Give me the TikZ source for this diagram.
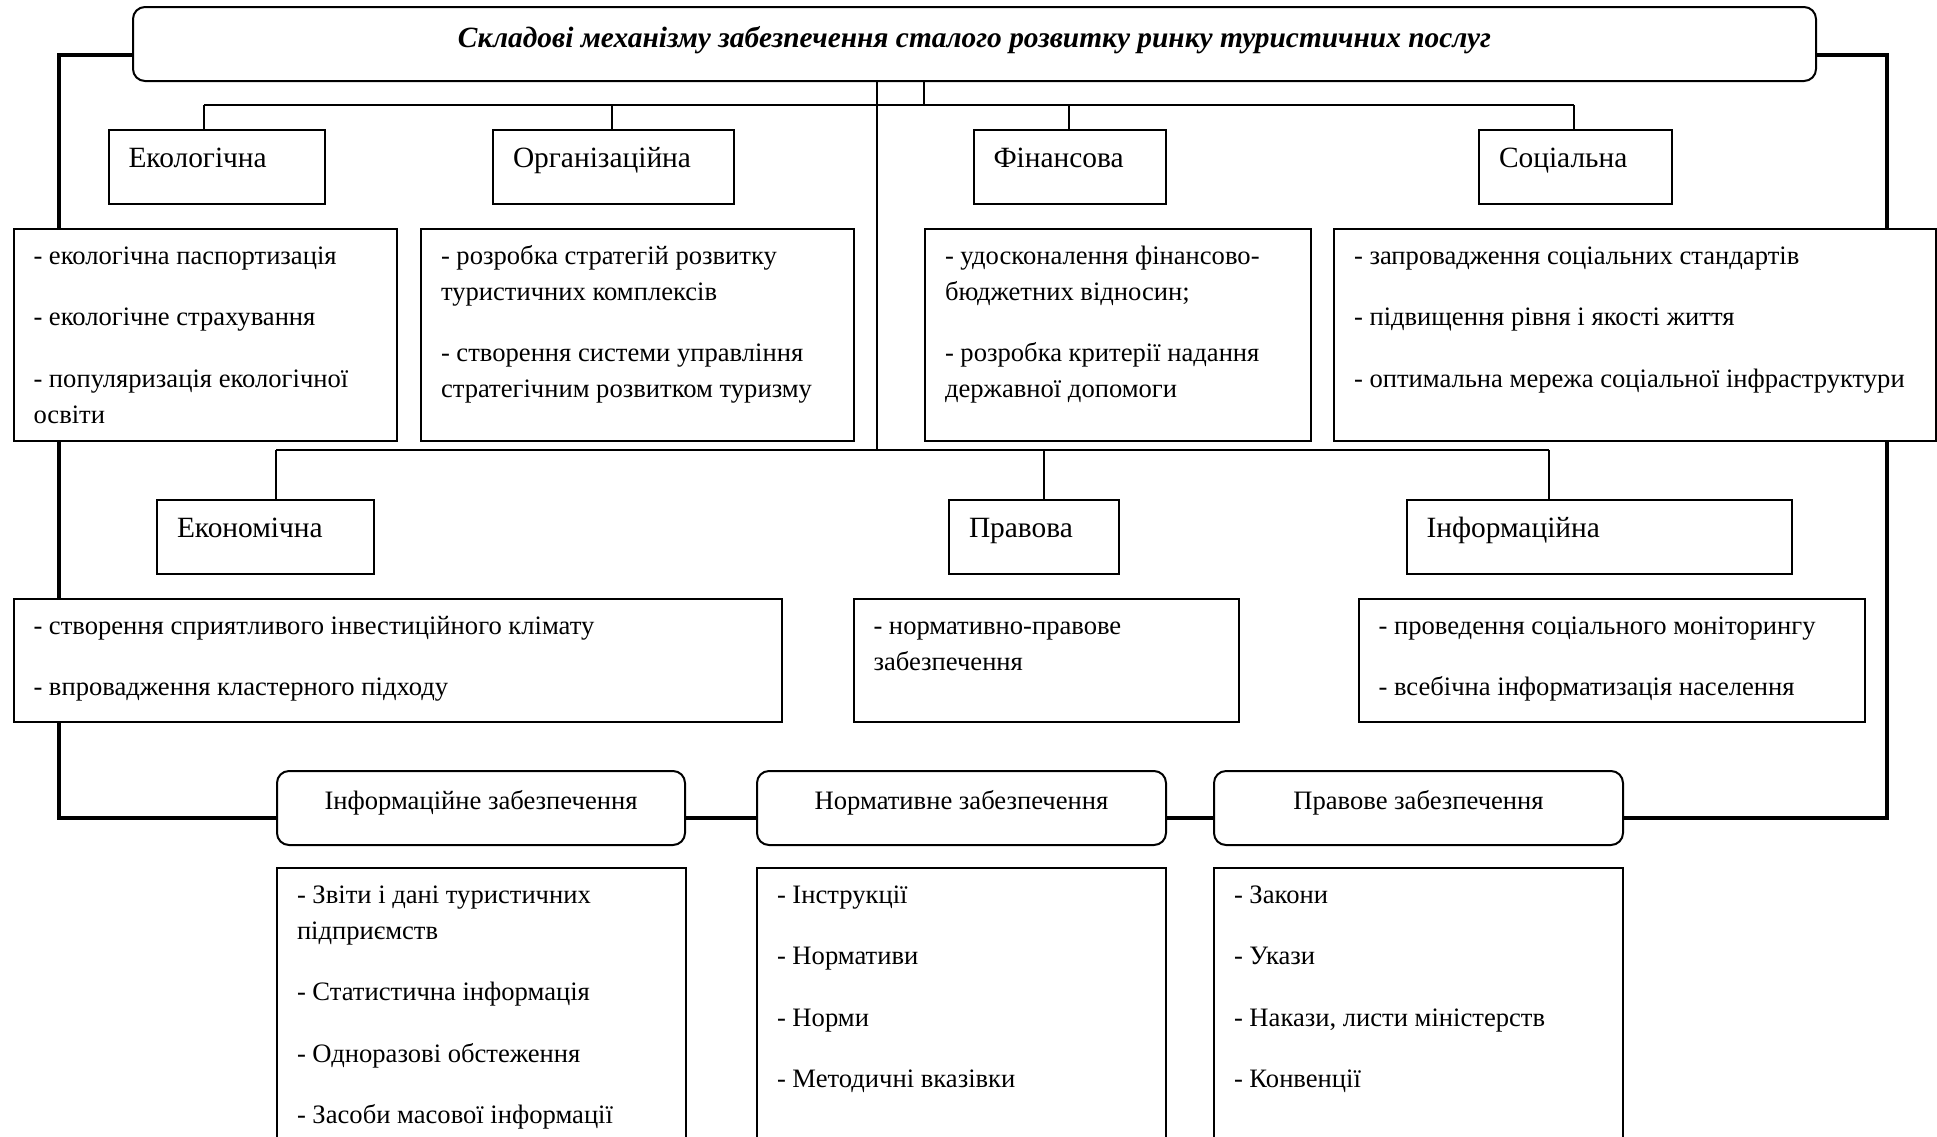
\documentclass[tikz,border=0pt]{standalone}
\usepackage{fontspec}
\setmainfont{Liberation Serif}
\usetikzlibrary{backgrounds}
% name, style, x, y, w(px), h(px), first baseline (pt), format, text
\newcommand\dbox[9]{\node[#2] (#1) at (#3,#4) {\parbox[c][\dimexpr #6pt/2\relax][t]{\dimexpr #5pt/2-20pt\relax}{\fontsize{13.3}{18}\selectfont\raggedright#8\rule{0pt}{#7pt}#9}};}
\newcommand\lblfont{\fontsize{14.7}{18}\selectfont}
\tikzset{
  bx/.style={draw, line width=1pt, fill=white, anchor=north west, inner xsep=10pt, inner ysep=0pt},
  rbx/.style={bx, rounded corners=6pt},
  conn/.style={line width=0.7pt},
  outerline/.style={line width=1.8pt},
}
\begin{document}
\begin{tikzpicture}[x=0.5pt,y=-0.5pt]
\useasboundingbox (0,0) rectangle (1937,1136);
\clip (0,0) rectangle (1937,1136);
% title
\dbox{title}{rbx}{132}{6}{1683}{74}{20}{\centering\bfseries\itshape\lblfont}{Складові механізму забезпечення сталого розвитку ринку туристичних послуг}
% row 1 labels
\dbox{eko}{bx}{107.5}{129}{216.5}{74}{18.6}{\lblfont}{Екологічна}
\dbox{org}{bx}{492}{129}{240.5}{74}{18.6}{\lblfont}{Організаційна}
\dbox{fin}{bx}{972.5}{129}{192.5}{74}{18.6}{\lblfont}{Фінансова}
\dbox{soc}{bx}{1478}{129}{192.5}{74}{18.6}{\lblfont}{Соціальна}
% row 1 details
\dbox{ekoD}{bx}{12.5}{228}{383.5}{212}{17.5}{}{- екологічна паспортизація\\[12.75pt]- екологічне страхування\\[12.75pt]- популяризація екологічної\\освіти}
\dbox{orgD}{bx}{420}{228}{432.5}{212}{17.5}{}{- розробка стратегій розвитку\\туристичних комплексів\\[12.75pt]- створення системи управління\\стратегічним розвитком туризму}
\dbox{finD}{bx}{924}{228}{386}{212}{17.5}{}{- удосконалення фінансово-\\бюджетних відносин;\\[12.75pt]- розробка критерії надання\\державної допомоги}
\dbox{socD}{bx}{1333}{228}{602}{212}{17.5}{}{- запровадження соціальних стандартів\\[12.75pt]- підвищення рівня і якості життя\\[12.75pt]- оптимальна мережа соціальної інфраструктури}
% row 2 labels
\dbox{ekn}{bx}{156}{499}{216.5}{74}{18.6}{\lblfont}{Економічна}
\dbox{prv}{bx}{948}{499}{169.5}{74}{18.6}{\lblfont}{Правова}
\dbox{inf}{bx}{1405.5}{499}{385.5}{74}{18.6}{\lblfont}{Інформаційна}
% row 2 details
\dbox{eknD}{bx}{12.5}{598}{768}{123}{17.5}{}{- створення сприятливого інвестиційного клімату\\[12.75pt]- впровадження кластерного підходу}
\dbox{prvD}{bx}{852.5}{598}{385}{123}{17.5}{}{- нормативно-правове\\забезпечення}
\dbox{infD}{bx}{1357.5}{598}{506}{123}{17.5}{}{- проведення соціального моніторингу\\[12.75pt]- всебічна інформатизація населення}
% bottom rounded
\dbox{infz}{rbx}{276}{770}{408}{74}{19}{\centering}{Інформаційне забезпечення}
\dbox{normz}{rbx}{756}{770}{409}{74}{19}{\centering}{Нормативне забезпечення}
\dbox{pravz}{rbx}{1213}{770}{409}{74}{19}{\centering}{Правове забезпечення}
% bottom details
\dbox{infzD}{bx}{276}{867}{409}{600}{17.5}{}{- Звіти і дані туристичних\\підприємств\\[12.75pt]- Статистична інформація\\[12.75pt]- Одноразові обстеження\\[12.75pt]- Засоби масової інформації}
\dbox{normzD}{bx}{756}{867}{409}{600}{17.5}{}{- Інструкції\\[12.75pt]- Нормативи\\[12.75pt]- Норми\\[12.75pt]- Методичні вказівки}
\dbox{pravzD}{bx}{1213}{867}{409}{600}{17.5}{}{- Закони\\[12.75pt]- Укази\\[12.75pt]- Накази, листи міністерств\\[12.75pt]- Конвенції}
% connectors
\coordinate (j1) at (924,105);
\coordinate (j2) at (877,450);
\coordinate (b1a) at (204,105);
\coordinate (b1b) at (612,105);
\coordinate (b1c) at (1069,105);
\coordinate (b1d) at (1574,105);
\coordinate (b2a) at (276,450);
\coordinate (b2b) at (1044,450);
\coordinate (b2c) at (1549,450);
\coordinate (tl) at (59,55);
\coordinate (bl) at (59,818);
\coordinate (tr) at (1887,55);
\coordinate (br) at (1887,818);
\begin{pgfonlayer}{background}
\fill[white] (0,0) rectangle (1937,1136);
\draw[conn] (j1 |- title.south) -- (j1);
\draw[conn] (b1a) -- (b1d);
\draw[conn] (b1a) -- (b1a |- eko.north);
\draw[conn] (b1b) -- (b1b |- org.north);
\draw[conn] (b1c) -- (b1c |- fin.north);
\draw[conn] (b1d) -- (b1d |- soc.north);
\draw[conn] (j2 |- title.south) -- (j2);
\draw[conn] (b2a) -- (b2c);
\draw[conn] (b2a) -- (b2a |- ekn.north);
\draw[conn] (b2b) -- (b2b |- prv.north);
\draw[conn] (b2c) -- (b2c |- inf.north);
\draw[outerline] (tl -| title.west) -- (tl) -- (bl) -- (bl -| infz.west);
\draw[outerline] (bl -| infz.east) -- (bl -| normz.west);
\draw[outerline] (bl -| normz.east) -- (bl -| pravz.west);
\draw[outerline] (bl -| pravz.east) -- (br) -- (tr) -- (tr -| title.east);
\end{pgfonlayer}
\end{tikzpicture}
\end{document}
